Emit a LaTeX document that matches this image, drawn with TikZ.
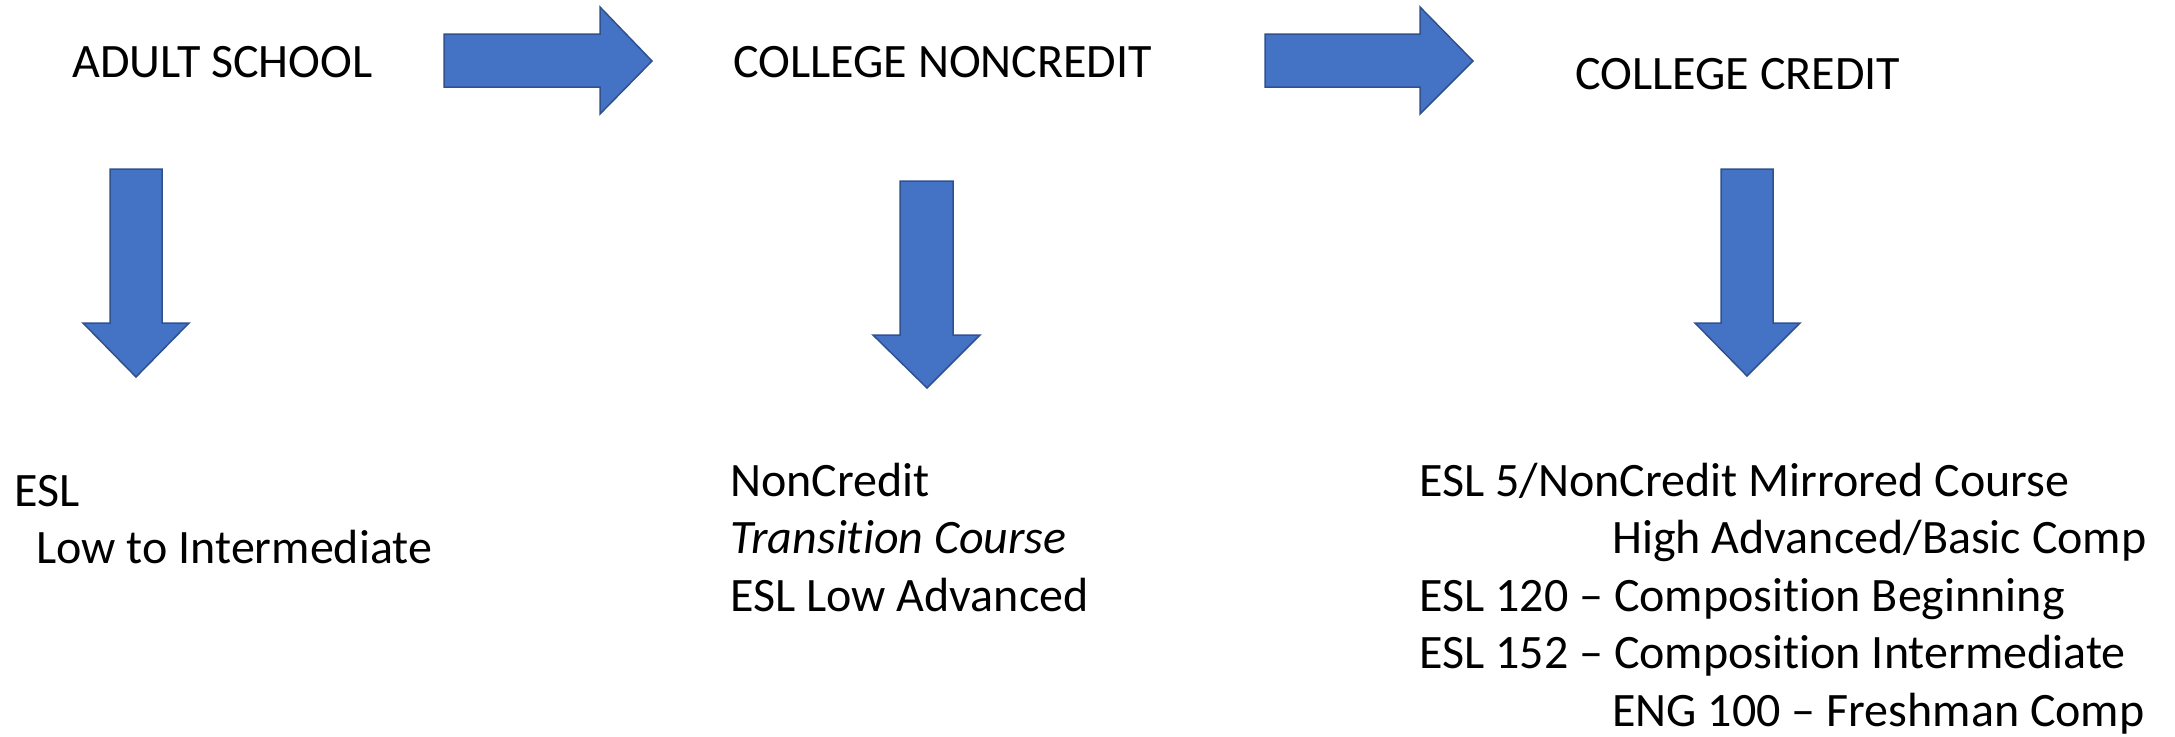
\documentclass[tikz,border=0pt]{standalone}
\usepackage{fontspec}
\setmainfont{Carlito}[Ligatures={TeX,NoCommon}]
\definecolor{blockfill}{HTML}{4472C4}
\definecolor{blockline}{HTML}{2F528F}
\begin{document}
\begin{tikzpicture}[x=0.5pt,y=-0.5pt,
  blockarrow/.style={fill=blockfill,draw=blockline,line width=0.75pt,line join=miter},
  lbl/.style={anchor=base west,inner sep=0pt,font=\fontsize{24}{28.75}\selectfont}]
\useasboundingbox (0,0) rectangle (2175,736);
% headings
\node[lbl] (adult) at (72,77) {ADULT SCHOOL};
\node[lbl] (noncredit) at (733,77) {COLLEGE NONCREDIT};
\node[lbl] (credit) at (1575,89) {COLLEGE CREDIT};
% lists
\node[lbl] (esl) at (14,506) {\begin{tabular}[t]{@{}l@{}}ESL\\\hspace*{11pt}Low to Intermediate\end{tabular}};
\node[lbl] (nc) at (730,496) {\begin{tabular}[t]{@{}l@{}}NonCredit\\\textit{Transition Course}\\ESL Low Advanced\end{tabular}};
\node[lbl] (cc) at (1419,496) {\begin{tabular}[t]{@{}l@{}}ESL 5/NonCredit Mirrored Course\\\hspace*{96.5pt}High Advanced/Basic Comp\\ESL 120 – Composition Beginning\\ESL 152 – Composition Intermediate\\\hspace*{96.5pt}ENG 100 – Freshman Comp\end{tabular}};
% right block arrows
\draw[blockarrow] (444,34) -- (600,34) -- (600,7) -- (652,61) -- (600,114) -- (600,87) -- (444,87) -- cycle;
\draw[blockarrow] (1265,34) -- (1420,34) -- (1420,7) -- (1473,61) -- (1420,114) -- (1420,87) -- (1265,87) -- cycle;
% down block arrows
\draw[blockarrow] (110,169) -- (162,169) -- (162,323) -- (189,323) -- (136,377) -- (83,323) -- (110,323) -- cycle;
\draw[blockarrow] (900,181) -- (953,181) -- (953,335) -- (980,335) -- (927,388) -- (873,335) -- (900,335) -- cycle;
\draw[blockarrow] (1721,169) -- (1773,169) -- (1773,323) -- (1800,323) -- (1747,376) -- (1695,323) -- (1721,323) -- cycle;
\end{tikzpicture}
\end{document}
